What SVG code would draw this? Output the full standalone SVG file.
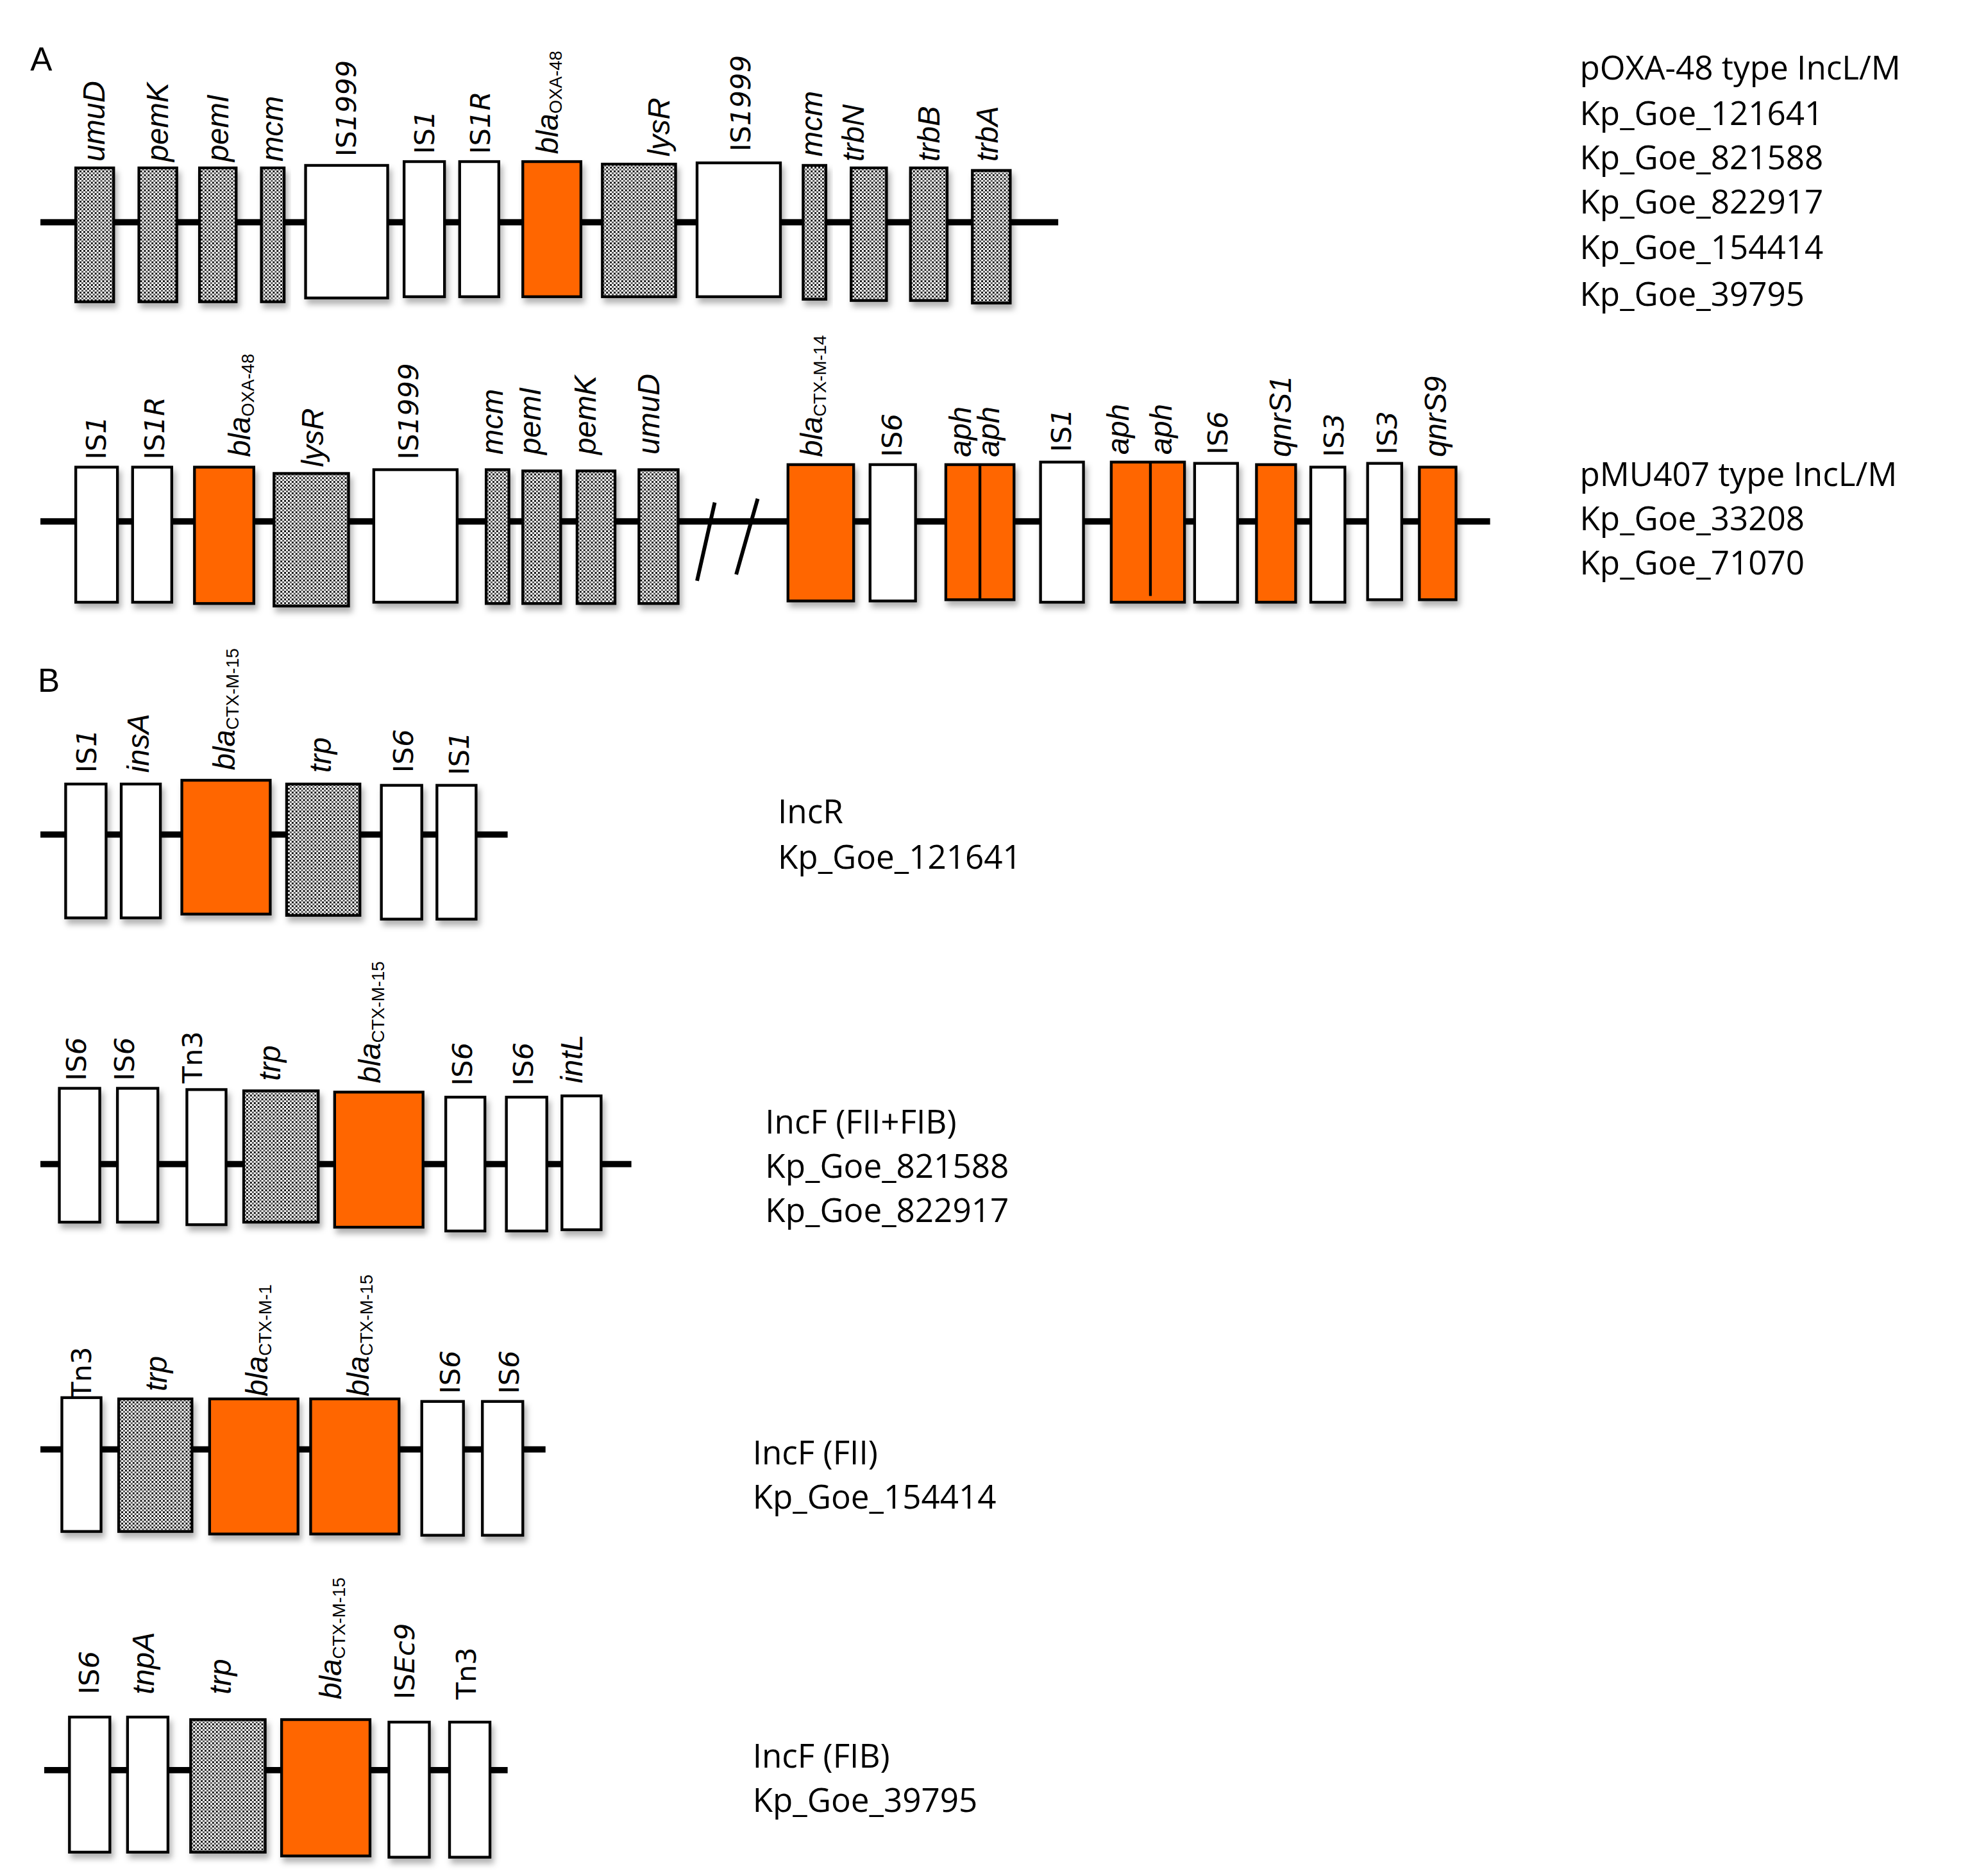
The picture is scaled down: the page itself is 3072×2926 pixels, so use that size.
<svg xmlns="http://www.w3.org/2000/svg" width="3072" height="2926" viewBox="0 0 3072 2926">
<defs>
<pattern id="hatch" width="3" height="3" patternUnits="userSpaceOnUse">
<rect width="3" height="3" fill="#fff"/>
<rect width="1.5" height="1.5" fill="#111"/>
<rect x="1.5" y="1.5" width="1.5" height="1.5" fill="#555"/>
</pattern>
<filter id="sh" x="-20%" y="-10%" width="150%" height="130%">
<feDropShadow dx="2" dy="4" stdDeviation="2.5" flood-color="#000" flood-opacity="0.3"/>
</filter>
</defs>
<style>
.w{fill:#fff;stroke:#000;stroke-width:2.2;filter:url(#sh)}
.o{fill:#ff6600;stroke:#000;stroke-width:2.2;filter:url(#sh)}
.h{fill:url(#hatch);stroke:#000;stroke-width:2.2;filter:url(#sh)}
.bb{stroke:#000;stroke-width:5;fill:none}
.sl{stroke:#000;stroke-width:3;fill:none}
.g{font-family:"Liberation Sans",Arial,sans-serif;font-style:italic;font-size:24px;fill:#000}
.i{font-family:"DejaVu Sans","Liberation Sans",sans-serif;font-size:22px;fill:#000}
.sub{font-style:normal;font-size:14px}
.t{font-family:"Open Sans","Liberation Sans",sans-serif;font-size:26px;fill:#000}
.p{font-family:"Liberation Sans",Arial,sans-serif;font-size:26px;fill:#000}
</style>
<rect width="3072" height="2926" fill="#fff"/>
<g transform="scale(1.9692)">
<g id="connectors">
<line class="bb" x1="32" y1="176" x2="838" y2="176"/>
<line class="bb" x1="32" y1="413" x2="1180" y2="413"/>
<line class="sl" x1="552" y1="460" x2="566" y2="398"/>
<line class="sl" x1="583" y1="455" x2="600" y2="395"/>
<line class="bb" x1="32" y1="661" x2="402" y2="661"/>
<line class="bb" x1="32" y1="922" x2="500" y2="922"/>
<line class="bb" x1="32" y1="1148" x2="432" y2="1148"/>
<line class="bb" x1="35" y1="1402" x2="402" y2="1402"/>
</g>
<g id="labels">
<text class="p" x="24" y="56">A</text>
<text class="p" x="30" y="548">B</text>
<text class="t" x="1251" y="63">pOXA-48 type IncL/M</text>
<text class="t" x="1251" y="99">Kp_Goe_121641</text>
<text class="t" x="1251" y="134">Kp_Goe_821588</text>
<text class="t" x="1251" y="169">Kp_Goe_822917</text>
<text class="t" x="1251" y="205">Kp_Goe_154414</text>
<text class="t" x="1251" y="242">Kp_Goe_39795</text>
<text class="t" x="1251" y="385">pMU407 type IncL/M</text>
<text class="t" x="1251" y="420">Kp_Goe_33208</text>
<text class="t" x="1251" y="455">Kp_Goe_71070</text>
<text class="t" x="616" y="652">IncR</text>
<text class="t" x="616" y="688">Kp_Goe_121641</text>
<text class="t" x="606" y="898">IncF (FII+FIB)</text>
<text class="t" x="606" y="933">Kp_Goe_821588</text>
<text class="t" x="606" y="968">Kp_Goe_822917</text>
<text class="t" x="596" y="1160">IncF (FII)</text>
<text class="t" x="596" y="1195">Kp_Goe_154414</text>
<text class="t" x="596" y="1400">IncF (FIB)</text>
<text class="t" x="596" y="1435">Kp_Goe_39795</text>
</g>
<!-- Row A1 -->
<g id="a1-umuD"><rect class="h" x="60" y="133" width="30" height="106"/><text class="g" transform="translate(83,128) rotate(-90)">umuD</text></g>
<g id="a1-pemK"><rect class="h" x="110" y="133" width="30" height="106"/><text class="g" transform="translate(133,128) rotate(-90)">pemK</text></g>
<g id="a1-pemI"><rect class="h" x="158" y="133" width="29" height="106"/><text class="g" transform="translate(181,128) rotate(-90)">pemI</text></g>
<g id="a1-mcm"><rect class="h" x="207" y="133" width="18" height="106"/><text class="g" transform="translate(224,128) rotate(-90)">mcm</text></g>
<g id="a1-IS1999"><rect class="w" x="242" y="131" width="65" height="105"/><text class="i" transform="translate(282,124) rotate(-90)">IS<tspan font-style="italic">1999</tspan></text></g>
<g id="a1-IS1"><rect class="w" x="320" y="128" width="32" height="107"/><text class="i" transform="translate(344,122) rotate(-90)">IS<tspan font-style="italic">1</tspan></text></g>
<g id="a1-IS1R"><rect class="w" x="364" y="128" width="31" height="107"/><text class="i" transform="translate(388,122) rotate(-90)">IS<tspan font-style="italic">1R</tspan></text></g>
<g id="a1-blaOXA48"><rect class="o" x="414" y="128" width="46" height="107"/><text class="g" transform="translate(442,122) rotate(-90)">bla<tspan class="sub" dy="3">OXA-48</tspan></text></g>
<g id="a1-lysR"><rect class="h" x="477" y="130" width="58" height="105"/><text class="g" transform="translate(530,124) rotate(-90)">lysR</text></g>
<g id="a1-IS1999b"><rect class="w" x="552" y="129" width="66" height="106"/><text class="i" transform="translate(594,120) rotate(-90)">IS<tspan font-style="italic">1999</tspan></text></g>
<g id="a1-mcm2"><rect class="h" x="636" y="131" width="18" height="106"/><text class="g" transform="translate(651,124) rotate(-90)">mcm</text></g>
<g id="a1-trbN"><rect class="h" x="674" y="133" width="28" height="105"/><text class="g" transform="translate(684,128) rotate(-90)">trbN</text></g>
<g id="a1-trbB"><rect class="h" x="721" y="133" width="29" height="105"/><text class="g" transform="translate(744,128) rotate(-90)">trbB</text></g>
<g id="a1-trbA"><rect class="h" x="770" y="135" width="30" height="105"/><text class="g" transform="translate(790,128) rotate(-90)">trbA</text></g>
<!-- Row A2 -->
<g id="a2-IS1"><rect class="w" x="60" y="370" width="33" height="107"/><text class="i" transform="translate(84,364) rotate(-90)">IS<tspan font-style="italic">1</tspan></text></g>
<g id="a2-IS1R"><rect class="w" x="105" y="370" width="31" height="107"/><text class="i" transform="translate(130,364) rotate(-90)">IS<tspan font-style="italic">1R</tspan></text></g>
<g id="a2-blaOXA48"><rect class="o" x="154" y="370" width="47" height="108"/><text class="g" transform="translate(198,362) rotate(-90)">bla<tspan class="sub" dy="3">OXA-48</tspan></text></g>
<g id="a2-lysR"><rect class="h" x="217" y="375" width="59" height="105"/><text class="g" transform="translate(256,370) rotate(-90)">lysR</text></g>
<g id="a2-IS1999"><rect class="w" x="296" y="372" width="66" height="105"/><text class="i" transform="translate(331,364) rotate(-90)">IS<tspan font-style="italic">1999</tspan></text></g>
<g id="a2-mcm"><rect class="h" x="385" y="372" width="18" height="106"/><text class="g" transform="translate(398,360) rotate(-90)">mcm</text></g>
<g id="a2-pemI"><rect class="h" x="414" y="373" width="30" height="105"/><text class="g" transform="translate(428,360) rotate(-90)">pemI</text></g>
<g id="a2-pemK"><rect class="h" x="457" y="373" width="30" height="105"/><text class="g" transform="translate(472,360) rotate(-90)">pemK</text></g>
<g id="a2-umuD"><rect class="h" x="506" y="372" width="31" height="106"/><text class="g" transform="translate(522,360) rotate(-90)">umuD</text></g>
<g id="a2-blaCTXM14"><rect class="o" x="624" y="368" width="52" height="108"/><text class="g" transform="translate(651,362) rotate(-90)">bla<tspan class="sub" dy="3">CTX-M-14</tspan></text></g>
<g id="a2-IS6"><rect class="w" x="689" y="368" width="36" height="108"/><text class="i" transform="translate(714,362) rotate(-90)">IS<tspan font-style="italic">6</tspan></text></g>
<g id="a2-aph1"><rect class="o" x="749" y="368" width="54" height="107"/><line x1="776" y1="368" x2="776" y2="475" stroke="#000" stroke-width="2.2"/><text class="g" transform="translate(769,362) rotate(-90)">aph</text><text class="g" transform="translate(791,362) rotate(-90)">aph</text></g>
<g id="a2-IS1b"><rect class="w" x="824" y="366" width="34" height="111"/><text class="i" transform="translate(848,358) rotate(-90)">IS<tspan font-style="italic">1</tspan></text></g>
<g id="a2-aph2"><rect class="o" x="880" y="366" width="58" height="111"/><line x1="911" y1="366" x2="911" y2="472" stroke="#000" stroke-width="2.2"/><text class="g" transform="translate(894,360) rotate(-90)">aph</text><text class="g" transform="translate(928,360) rotate(-90)">aph</text></g>
<g id="a2-IS6b"><rect class="w" x="946" y="367" width="34" height="110"/><text class="i" transform="translate(972,360) rotate(-90)">IS<tspan font-style="italic">6</tspan></text></g>
<g id="a2-qnrS1"><rect class="o" x="995" y="368" width="31" height="109"/><text class="g" transform="translate(1022,362) rotate(-90)">qnrS1</text></g>
<g id="a2-IS3"><rect class="w" x="1038" y="370" width="27" height="107"/><text class="i" transform="translate(1064,362) rotate(-90)">IS<tspan font-style="italic">3</tspan></text></g>
<g id="a2-IS3b"><rect class="w" x="1083" y="367" width="27" height="108"/><text class="i" transform="translate(1106,360) rotate(-90)">IS<tspan font-style="italic">3</tspan></text></g>
<g id="a2-qnrS9"><rect class="o" x="1124" y="370" width="29" height="105"/><text class="g" transform="translate(1145,362) rotate(-90)">qnrS9</text></g>
<!-- B1 -->
<g id="b1-IS1"><rect class="w" x="52" y="621" width="32" height="106"/><text class="i" transform="translate(76,612) rotate(-90)">IS<tspan font-style="italic">1</tspan></text></g>
<g id="b1-insA"><rect class="w" x="96" y="621" width="31" height="106"/><text class="g" transform="translate(118,612) rotate(-90)">insA</text></g>
<g id="b1-blaCTXM15"><rect class="o" x="144" y="618" width="70" height="106"/><text class="g" transform="translate(186,610) rotate(-90)">bla<tspan class="sub" dy="3">CTX-M-15</tspan></text></g>
<g id="b1-trp"><rect class="h" x="227" y="621" width="58" height="104"/><text class="g" transform="translate(262,612) rotate(-90)">trp</text></g>
<g id="b1-IS6"><rect class="w" x="302" y="622" width="32" height="106"/><text class="i" transform="translate(327,612) rotate(-90)">IS<tspan font-style="italic">6</tspan></text></g>
<g id="b1-IS1b"><rect class="w" x="346" y="622" width="31" height="106"/><text class="i" transform="translate(371,614) rotate(-90)">IS<tspan font-style="italic">1</tspan></text></g>
<!-- B2 -->
<g id="b2-IS6"><rect class="w" x="47" y="862" width="32" height="106"/><text class="i" transform="translate(68,856) rotate(-90)">IS<tspan font-style="italic">6</tspan></text></g>
<g id="b2-IS6b"><rect class="w" x="93" y="862" width="32" height="106"/><text class="i" transform="translate(106,856) rotate(-90)">IS<tspan font-style="italic">6</tspan></text></g>
<g id="b2-Tn3"><rect class="w" x="148" y="863" width="31" height="107"/><text class="i" transform="translate(160,858) rotate(-90)">Tn3</text></g>
<g id="b2-trp"><rect class="h" x="193" y="864" width="59" height="104"/><text class="g" transform="translate(222,856) rotate(-90)">trp</text></g>
<g id="b2-blaCTXM15"><rect class="o" x="265" y="865" width="70" height="107"/><text class="g" transform="translate(301,858) rotate(-90)">bla<tspan class="sub" dy="3">CTX-M-15</tspan></text></g>
<g id="b2-IS6c"><rect class="w" x="353" y="869" width="31" height="106"/><text class="i" transform="translate(374,860) rotate(-90)">IS<tspan font-style="italic">6</tspan></text></g>
<g id="b2-IS6d"><rect class="w" x="401" y="869" width="32" height="106"/><text class="i" transform="translate(422,860) rotate(-90)">IS<tspan font-style="italic">6</tspan></text></g>
<g id="b2-intL"><rect class="w" x="445" y="868" width="31" height="106"/><text class="g" transform="translate(461,858) rotate(-90)">intL</text></g>
<!-- B3 -->
<g id="b3-Tn3"><rect class="w" x="49" y="1107" width="31" height="106"/><text class="i" transform="translate(72,1108) rotate(-90)">Tn3</text></g>
<g id="b3-trp"><rect class="h" x="94" y="1108" width="58" height="105"/><text class="g" transform="translate(132,1102) rotate(-90)">trp</text></g>
<g id="b3-blaCTXM1"><rect class="o" x="166" y="1108" width="70" height="107"/><text class="g" transform="translate(212,1106) rotate(-90)">bla<tspan class="sub" dy="3">CTX-M-1</tspan></text></g>
<g id="b3-blaCTXM15"><rect class="o" x="246" y="1108" width="70" height="107"/><text class="g" transform="translate(292,1106) rotate(-90)">bla<tspan class="sub" dy="3">CTX-M-15</tspan></text></g>
<g id="b3-IS6"><rect class="w" x="334" y="1110" width="33" height="106"/><text class="i" transform="translate(364,1104) rotate(-90)">IS<tspan font-style="italic">6</tspan></text></g>
<g id="b3-IS6b"><rect class="w" x="382" y="1110" width="32" height="106"/><text class="i" transform="translate(411,1104) rotate(-90)">IS<tspan font-style="italic">6</tspan></text></g>
<!-- B4 -->
<g id="b4-IS6"><rect class="w" x="55" y="1360" width="32" height="107"/><text class="i" transform="translate(78,1342) rotate(-90)">IS<tspan font-style="italic">6</tspan></text></g>
<g id="b4-tnpA"><rect class="w" x="101" y="1360" width="32" height="107"/><text class="g" transform="translate(122,1342) rotate(-90)">tnpA</text></g>
<g id="b4-trp"><rect class="h" x="151" y="1362" width="59" height="105"/><text class="g" transform="translate(183,1342) rotate(-90)">trp</text></g>
<g id="b4-blaCTXM15"><rect class="o" x="223" y="1362" width="70" height="108"/><text class="g" transform="translate(270,1346) rotate(-90)">bla<tspan class="sub" dy="3">CTX-M-15</tspan></text></g>
<g id="b4-ISEc9"><rect class="w" x="308" y="1364" width="32" height="107"/><text class="i" transform="translate(328,1346) rotate(-90)">IS<tspan font-style="italic">Ec9</tspan></text></g>
<g id="b4-Tn3"><rect class="w" x="356" y="1364" width="32" height="107"/><text class="i" transform="translate(377,1346) rotate(-90)">Tn3</text></g>
</g>
</svg>
